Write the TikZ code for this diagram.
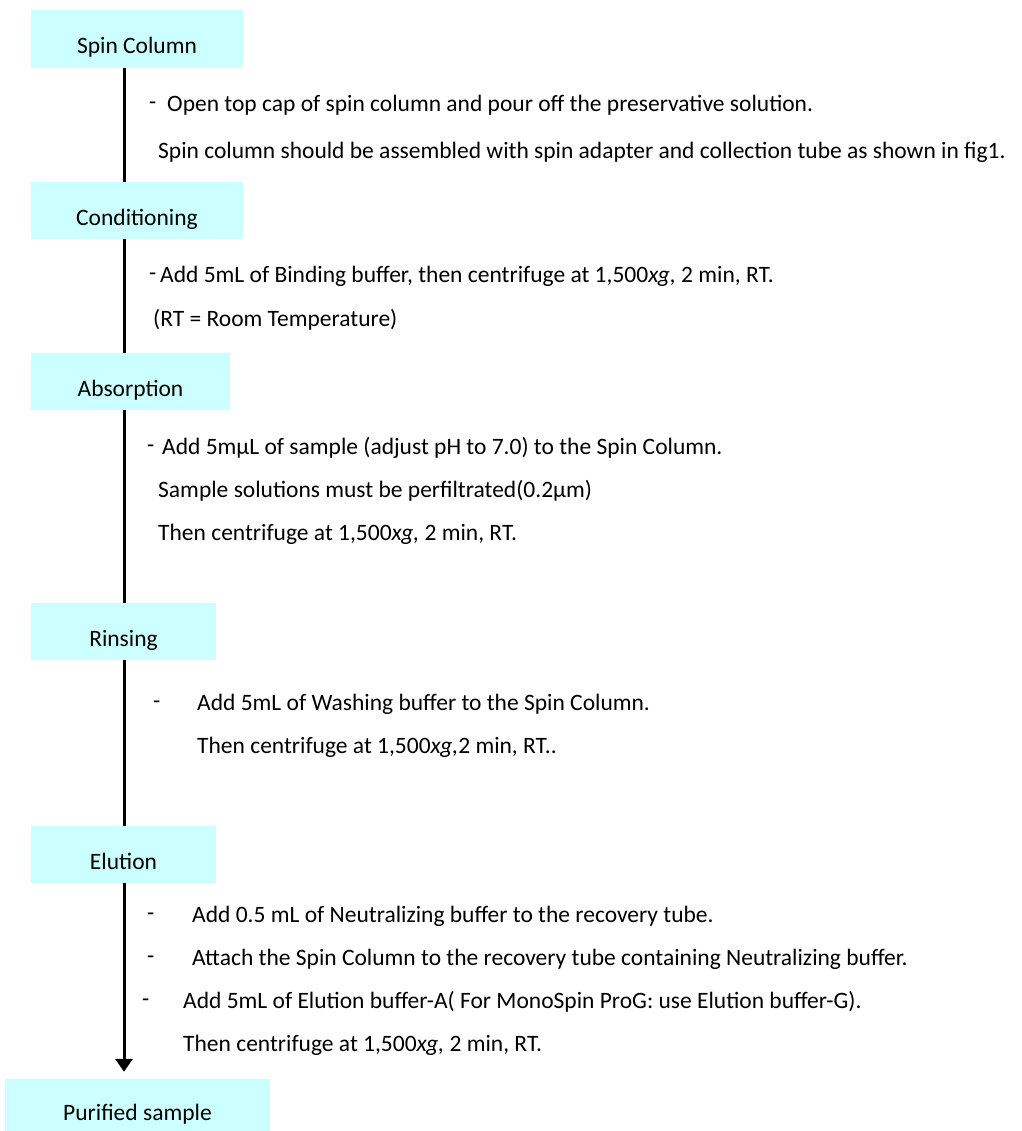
\documentclass[tikz,border=0pt]{standalone}
\usepackage{fontspec}
\setmainfont{Carlito}
\usetikzlibrary{arrows.meta}
\definecolor{boxcyan}{RGB}{204,255,255}
\tikzset{
  stepbox/.style={fill=boxcyan,inner sep=0pt,text height=30pt,text depth=0pt,font=\fontsize{23.5}{28}\selectfont},
  note/.style={anchor=base west,inner sep=0pt,font=\fontsize{23.5}{28}\selectfont},
  dashmark/.style={anchor=base west,inner sep=0pt,font=\fontsize{23.5}{28}\selectfont},
}
\begin{document}
\begin{tikzpicture}[x=1pt,y=-1pt]
  \useasboundingbox (0,0) rectangle (1021,1131);
  % step boxes
  \node[stepbox,minimum width=212,minimum height=58] (spin) at (137,39) {Spin Column};
  \node[stepbox,minimum width=212,minimum height=57] (cond) at (137,210.5) {Conditioning};
  \node[stepbox,minimum width=199,minimum height=57] (absorp) at (130.5,381.5) {Absorption};
  \node[stepbox,minimum width=185,minimum height=57] (rinse) at (123.5,631.5) {Rinsing};
  \node[stepbox,minimum width=185,minimum height=57] (elute) at (123.5,854.5) {Elution};
  \node[stepbox,minimum width=265,minimum height=52] (purified) at (137.5,1105) {Purified sample};
  \coordinate (axis) at (124,0);
  % flow line
  \draw[line width=3pt] (spin.south -| axis) -- (cond.north -| axis);
  \draw[line width=3pt] (cond.south -| axis) -- (absorp.north -| axis);
  \draw[line width=3pt] (absorp.south -| axis) -- (rinse.north -| axis);
  \draw[line width=3pt] (rinse.south -| axis) -- (elute.north -| axis);
  \draw[line width=3pt,-{Triangle[length=13pt,width=17pt]},shorten >=7pt] (elute.south -| axis) -- (purified.north -| axis);
  % spin column
  \node[dashmark] (d1) at (149,110) {-};
  \node[note] (t1) at (167,112) {Open top cap of spin column and pour off the preservative solution.};
  \node[note] (t2) at (158,159) {Spin column should be assembled with spin adapter and collection tube as shown in fig1.};
  % conditioning
  \node[dashmark] (d2) at (149,281) {-};
  \node[note] (t3) at (160,283) {Add 5mL of Binding buffer, then centrifuge at 1,500\textit{xg,} 2 min, RT.};
  \node[note] (t4) at (153,326) {(RT = Room Temperature)};
  % absorption
  \node[dashmark] (d3) at (147,452) {-};
  \node[note] (t5) at (162,454) {Add 5mμL of sample (adjust pH to 7.0) to the Spin Column.};
  \node[note] (t6) at (158,497) {Sample solutions must be perfiltrated(0.2μm)};
  \node[note] (t7) at (158,540) {Then centrifuge at 1,500\textit{xg,} 2 min, RT.};
  % rinsing
  \node[dashmark] (d4) at (153,708) {-};
  \node[note] (t8) at (197,710) {Add 5mL of Washing buffer to the Spin Column.};
  \node[note] (t9) at (197,753) {Then centrifuge at 1,500\textit{xg,}2 min, RT..};
  % elution
  \node[dashmark] (d5) at (147,920) {-};
  \node[note] (t10) at (192,922) {Add 0.5 mL of Neutralizing buffer to the recovery tube.};
  \node[dashmark] (d6) at (147,963) {-};
  \node[note] (t11) at (192,965) {Attach the Spin Column to the recovery tube containing Neutralizing buffer.};
  \node[dashmark] (d7) at (142,1006) {-};
  \node[note] (t12) at (183,1008) {Add 5mL of Elution buffer-A( For MonoSpin ProG: use Elution buffer-G).};
  \node[note] (t13) at (183,1051) {Then centrifuge at 1,500\textit{xg,} 2 min, RT.};
\end{tikzpicture}
\end{document}
